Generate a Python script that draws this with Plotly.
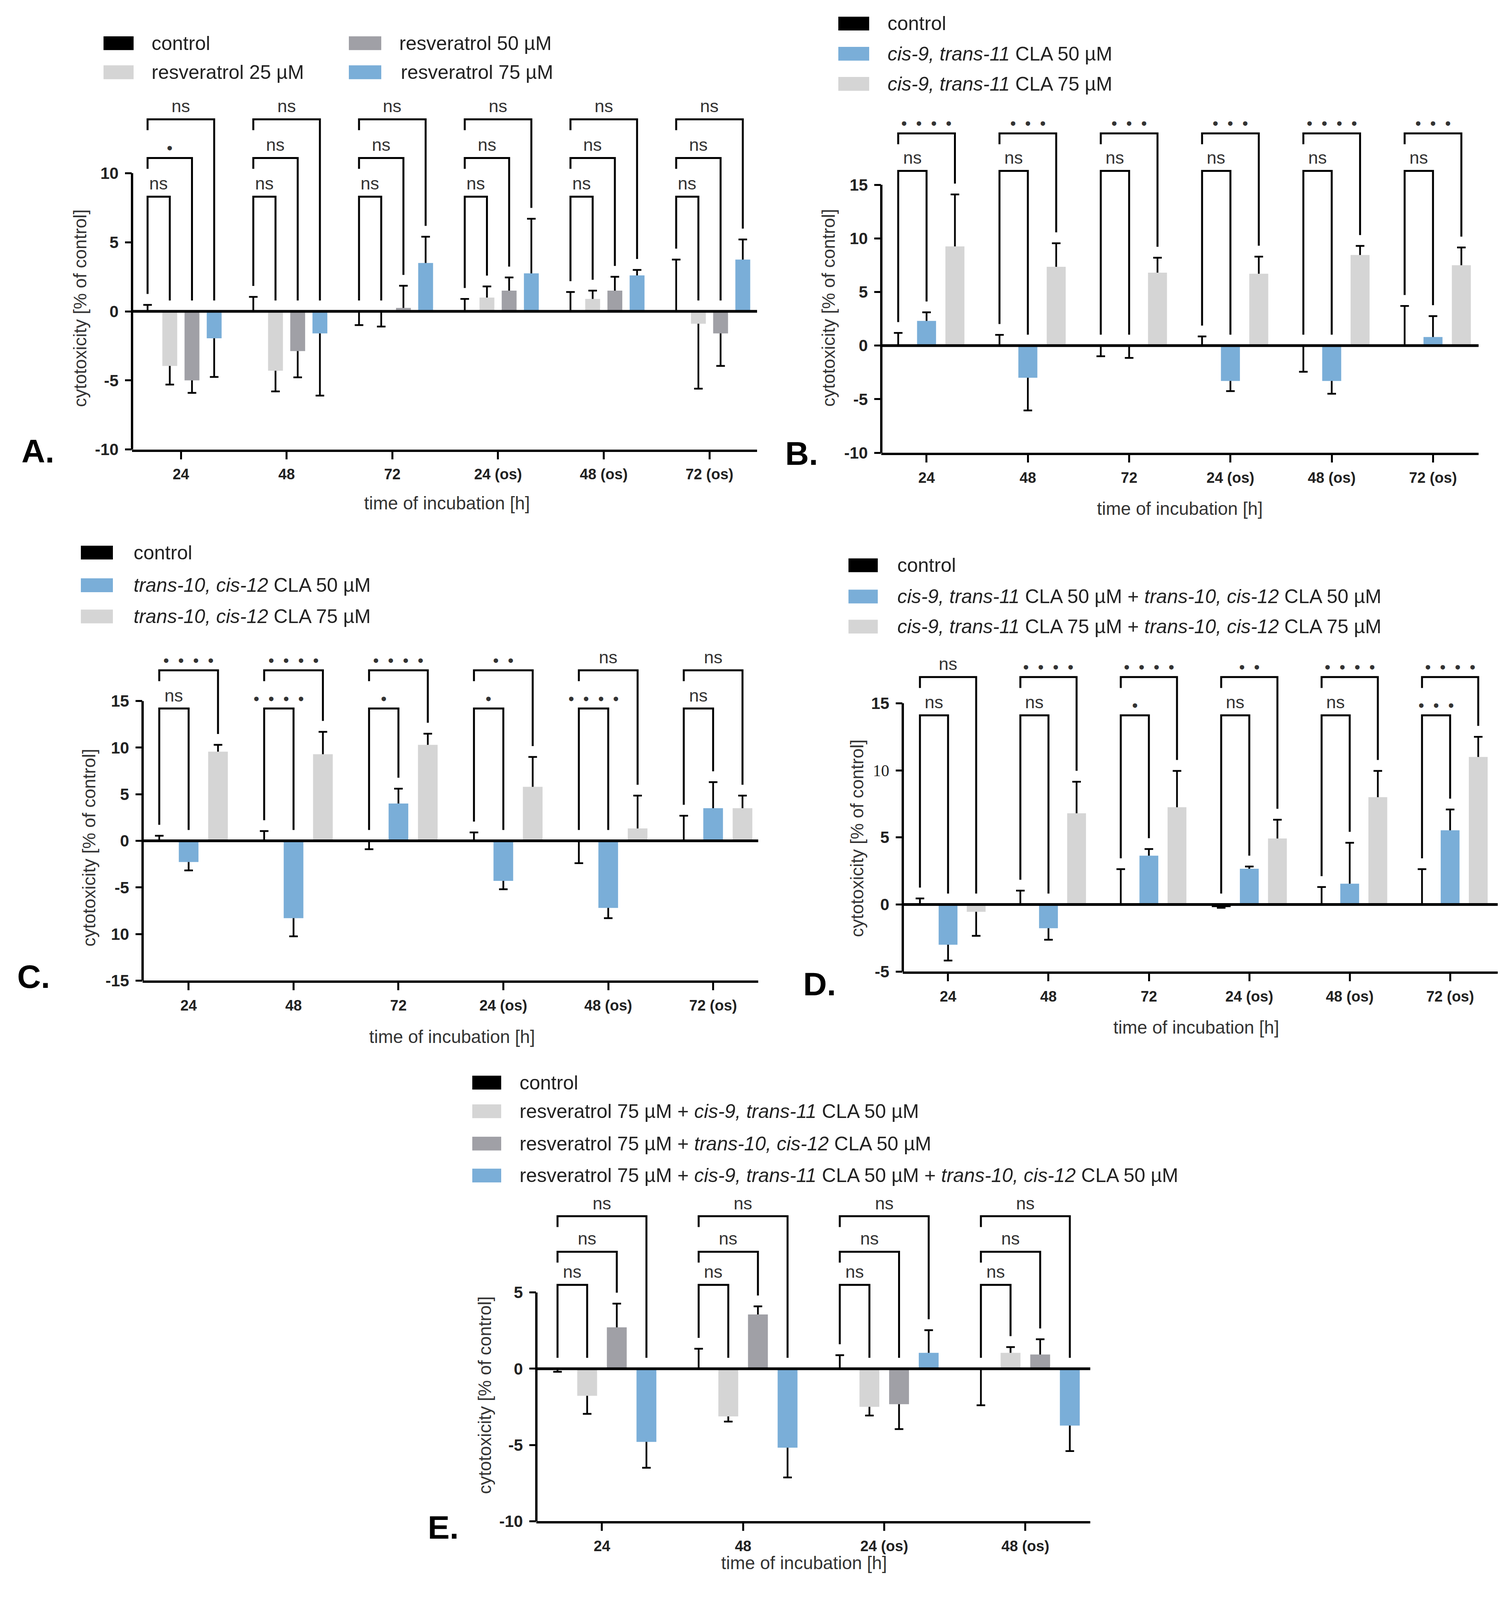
import plotly.graph_objects as go

# reference page is 3868 x 4364; the visible viewport is shorter, so the
# layout (measured in reference pixels) is mapped into a page that fits.
REF_W, REF_H = 3868, 4364
PAGE_H = 4080
BODY_MARGIN = 8
SY = PAGE_H / REF_H
W = REF_W - 2 * BODY_MARGIN
H = PAGE_H - 2 * BODY_MARGIN
FONT = "Liberation Sans, Arial, Helvetica, sans-serif"


def fx(x):
    return (x - BODY_MARGIN) / W


def fy(y):
    return 1 - (y * SY - BODY_MARGIN) / H


# ---------------- categories ----------------
CATS6 = ["24", "48", "72", "24 (os)", "48 (os)", "72 (os)"]
CATS4 = ["24", "48", "24 (os)", "48 (os)"]

# ---------------- panel A ----------------
A_names = ["control", "resveratrol 25 µM", "resveratrol 50 µM", "resveratrol 75 µM"]
A_control = [0, 0, 0, 0, 0, 0]
A_control_sd = [0.47, 1.05, -1.0, 0.9, 1.4, 3.75]
A_res25 = [-3.95, -4.3, 0.0, 1.0, 0.9, -0.9]
A_res25_sd = [-1.35, -1.5, -1.1, 0.8, 0.6, -4.7]
A_res50 = [-5.0, -2.88, 0.25, 1.5, 1.5, -1.6]
A_res50_sd = [-0.9, -1.9, 1.6, 0.95, 1.0, -2.35]
A_res75 = [-1.95, -1.6, 3.5, 2.75, 2.6, 3.75]
A_res75_sd = [-2.8, -4.5, 1.9, 3.95, 0.4, 1.45]
A_sig = [["ns", "ns", "ns", "ns", "ns", "ns"],
         ["*", "ns", "ns", "ns", "ns", "ns"],
         ["ns", "ns", "ns", "ns", "ns", "ns"]]
A_levels = [8.3, 11.1, 13.9]
A_ticks = [-10, -5, 0, 5, 10]
A_ticktext = ["-10", "-5", "0", "5", "10"]

# ---------------- panel B ----------------
B_names = ["control", "<i>cis-9, trans-11</i> CLA 50 µM", "<i>cis-9, trans-11</i> CLA 75 µM"]
B_control = [0, 0, 0, 0, 0, 0]
B_control_sd = [1.18, 1.0, -1.0, 0.85, -2.45, 3.7]
B_c9_50 = [2.3, -3.0, 0.0, -3.3, -3.3, 0.8]
B_c9_50_sd = [0.8, -3.05, -1.15, -0.95, -1.2, 1.95]
B_c9_75 = [9.25, 7.35, 6.8, 6.7, 8.45, 7.5]
B_c9_75_sd = [4.85, 2.2, 1.4, 1.6, 0.85, 1.65]
B_sig = [["ns", "ns", "ns", "ns", "ns", "ns"],
         ["****", "***", "***", "***", "****", "***"]]
B_levels = [16.3, 19.8]
B_ticks = [-10, -5, 0, 5, 10, 15]
B_ticktext = ["-10", "-5", "0", "5", "10", "15"]

# ---------------- panel C ----------------
C_names = ["control", "<i>trans-10, cis-12</i> CLA 50 µM", "<i>trans-10, cis-12</i> CLA 75 µM"]
C_control = [0, 0, 0, 0, 0, 0]
C_control_sd = [0.55, 1.05, -0.9, 0.9, -2.4, 2.7]
C_t10_50 = [-2.27, -8.3, 4.0, -4.3, -7.2, 3.5]
C_t10_50_sd = [-0.9, -1.95, 1.6, -0.9, -1.1, 2.8]
C_t10_75 = [9.57, 9.3, 10.3, 5.8, 1.33, 3.5]
C_t10_75_sd = [0.73, 2.4, 1.2, 3.2, 3.52, 1.35]
C_sig = [["ns", "****", "*", "*", "****", "ns"],
         ["****", "****", "****", "**", "ns", "ns"]]
C_levels = [14.2, 18.3]
C_ticks = [-15, -10, -5, 0, 5, 10, 15]
C_ticktext = ["-15", "10", "-5", "0", "5", "10", "15"]

# ---------------- panel D ----------------
D_names = ["control",
           "<i>cis-9, trans-11</i> CLA 50 µM + <i>trans-10, cis-12</i> CLA 50 µM",
           "<i>cis-9, trans-11</i> CLA 75 µM + <i>trans-10, cis-12</i> CLA 75 µM"]
D_control = [0, 0, 0, -0.2, 0, 0]
D_control_sd = [0.45, 1.03, 2.63, -0.05, 1.3, 2.63]
D_mix50 = [-3.0, -1.77, 3.64, 2.66, 1.55, 5.53]
D_mix50_sd = [-1.18, -0.86, 0.49, 0.17, 3.05, 1.55]
D_mix75 = [-0.55, 6.8, 7.25, 4.92, 8.0, 11.0]
D_mix75_sd = [-1.79, 2.35, 2.71, 1.4, 1.96, 1.5]
D_sig = [["ns", "ns", "*", "ns", "ns", "***"],
         ["ns", "****", "****", "**", "****", "****"]]
D_levels = [14.1, 16.95]
D_ticks = [-5, 0, 5, 10, 15]
D_ticktext = ["-5", "0", "5",
              '<span style="font-family:Liberation Serif;font-weight:normal">10</span>', "15"]

# ---------------- panel E ----------------
E_names = ["control",
           "resveratrol 75 µM + <i>cis-9, trans-11</i> CLA 50 µM",
           "resveratrol 75 µM + <i>trans-10, cis-12</i> CLA 50 µM",
           "resveratrol 75 µM + <i>cis-9, trans-11</i> CLA 50 µM + <i>trans-10, cis-12</i> CLA 50 µM"]
E_control = [0, 0, 0, 0]
E_control_sd = [-0.2, 1.31, 0.89, -2.4]
E_r_c9 = [-1.78, -3.13, -2.5, 1.04]
E_r_c9_sd = [-1.18, -0.34, -0.57, 0.38]
E_r_t10 = [2.71, 3.56, -2.33, 0.93]
E_r_t10_sd = [1.56, 0.53, -1.63, 1.0]
E_r_mix = [-4.8, -5.18, 1.04, -3.73]
E_r_mix_sd = [-1.7, -1.95, 1.49, -1.67]
E_sig = [["ns", "ns", "ns", "ns"],
         ["ns", "ns", "ns", "ns"],
         ["ns", "ns", "ns", "ns"]]
E_levels = [5.5, 7.67, 10.0]
E_ticks = [-10, -5, 0, 5]
E_ticktext = ["-10", "-5", "0", "5"]

# ---------------- colours ----------------
BLACK = "#000000"
LIGHT = "#d5d5d5"
DARK = "#a0a0a6"
BLUE = "#7aaed8"

X_TITLE = "time of incubation [h]"
Y_TITLE = "cytotoxicity [% of control]"

# ---------------- layout geometry (reference pixels) ----------------
panels = [
    dict(key="A", cats=CATS6, names=A_names, colors=[BLACK, LIGHT, DARK, BLUE],
         values=[A_control, A_res25, A_res50, A_res75],
         sds=[A_control_sd, A_res25_sd, A_res50_sd, A_res75_sd],
         sig=A_sig, levels=A_levels, ticks=A_ticks, ticktext=A_ticktext,
         ymin=-10, ytop=10, ymax=16, left=338, right=1938, ybot=1238, ytoppx=477,
         xrange=[-0.462, 5.45],
         legend=[(0, 265, 342, 119, 386), (2, 893, 976, 119, 1020),
                 (1, 265, 342, 199, 386), (3, 893, 976, 199, 1024)],
         label=(97, 1243), ytitle=(205, 849), xtitle=(1144, 1386)),
    dict(key="B", cats=CATS6, names=B_names, colors=[BLACK, BLUE, LIGHT],
         values=[B_control, B_c9_50, B_c9_75],
         sds=[B_control_sd, B_c9_50_sd, B_c9_75_sd],
         sig=B_sig, levels=B_levels, ticks=B_ticks, ticktext=B_ticktext,
         ymin=-10, ytop=15, ymax=22, left=2256, right=3785, ybot=1247, ytoppx=509,
         xrange=[-0.447, 5.45],
         legend=[(0, 2146, 2225, 65, 2270), (1, 2146, 2225, 148, 2270),
                 (2, 2146, 2225, 231, 2270)],
         label=(2052, 1249), ytitle=(2121, 848), xtitle=(3020, 1401)),
    dict(key="C", cats=CATS6, names=C_names, colors=[BLACK, BLUE, LIGHT],
         values=[C_control, C_t10_50, C_t10_75],
         sds=[C_control_sd, C_t10_50_sd, C_t10_75_sd],
         sig=C_sig, levels=C_levels, ticks=C_ticks, ticktext=C_ticktext,
         ymin=-15, ytop=15, ymax=21, left=365, right=1941, ybot=2701, ytoppx=1931,
         xrange=[-0.439, 5.43],
         legend=[(0, 207, 289, 1522, 340), (1, 207, 289, 1612, 340),
                 (2, 207, 289, 1698, 340)],
         label=(86, 2690), ytitle=(228, 2335), xtitle=(1157, 2856)),
    dict(key="D", cats=CATS6, names=D_names, colors=[BLACK, BLUE, LIGHT],
         values=[D_control, D_mix50, D_mix75],
         sds=[D_control_sd, D_mix50_sd, D_mix75_sd],
         sig=D_sig, levels=D_levels, ticks=D_ticks, ticktext=D_ticktext,
         ymin=-5, ytop=15, ymax=19, left=2311, right=3834, ybot=2676, ytoppx=1937,
         xrange=[-0.451, 5.474],
         legend=[(0, 2172, 2247, 1557, 2295), (1, 2172, 2247, 1643, 2295),
                 (2, 2172, 2247, 1726, 2295)],
         label=(2098, 2710), ytitle=(2194, 2309), xtitle=(3062, 2830)),
    dict(key="E", cats=CATS4, names=E_names, colors=[BLACK, LIGHT, DARK, BLUE],
         values=[E_control, E_r_c9, E_r_t10, E_r_mix],
         sds=[E_control_sd, E_r_c9_sd, E_r_t10_sd, E_r_mix_sd],
         sig=E_sig, levels=E_levels, ticks=E_ticks, ticktext=E_ticktext,
         ymin=-10, ytop=5, ymax=11.6, left=1373, right=2791, ybot=4190, ytoppx=3560,
         xrange=[-0.465, 3.46],
         legend=[(0, 1209, 1283, 2982, 1328), (1, 1209, 1283, 3061, 1328),
                 (2, 1209, 1283, 3150, 1328), (3, 1209, 1283, 3238, 1328)],
         label=(1134, 4207), ytitle=(1241, 3843), xtitle=(2058, 4305)),
]

BARGAP = 0.16
BARGROUPGAP = 0.33
G = 1 - BARGAP


def sig_text(s):
    return s if s == "ns" else "\u2007".join("•" for _ in s)


fig = go.Figure()
layout = dict(width=W, height=H, paper_bgcolor="white", plot_bgcolor="white",
              barmode="group", bargap=BARGAP, bargroupgap=BARGROUPGAP,
              showlegend=False, margin=dict(l=0, r=0, t=0, b=0),
              font=dict(family=FONT, color="#222"))
shapes = []
annotations = []

for n, P in enumerate(panels, start=1):
    xa = "x" if n == 1 else f"x{n}"
    ya = "y" if n == 1 else f"y{n}"
    xkey = "xaxis" if n == 1 else f"xaxis{n}"
    ykey = "yaxis" if n == 1 else f"yaxis{n}"
    ncat = len(P["cats"])
    idx = list(range(ncat))
    nser = len(P["values"])
    ppu_ref = (P["ybot"] - P["ytoppx"]) / (P["ytop"] - P["ymin"])
    top_ref = P["ybot"] - (P["ymax"] - P["ymin"]) * ppu_ref
    ppu = ppu_ref * SY

    layout[xkey] = dict(domain=[fx(P["left"]), fx(P["right"])], range=P["xrange"],
                        anchor=ya, tickmode="array", tickvals=idx, ticktext=P["cats"],
                        showline=True, linecolor="black", linewidth=6,
                        ticks="outside", ticklen=19, tickwidth=5, tickcolor="black",
                        tickfont=dict(family=FONT, size=38, color="#222", weight="bold"),
                        ticklabelstandoff=6, showgrid=False, zeroline=False)
    layout[ykey] = dict(domain=[fy(P["ybot"]), fy(top_ref)],
                        range=[P["ymin"], P["ymax"]], anchor=xa,
                        tickmode="array", tickvals=P["ticks"], ticktext=P["ticktext"],
                        showline=False, ticks="outside", ticklen=17, tickwidth=5,
                        tickcolor="black",
                        tickfont=dict(family=FONT, size=42, color="#222", weight="bold"),
                        ticklabelstandoff=8, showgrid=False, zeroline=False)

    # error-bar carriers (drawn first, hidden under the bars)
    for k in range(nser):
        v = P["values"][k]
        e = P["sds"][k]
        up = [max(a, a + b, 0) - a for a, b in zip(v, e)]
        dn = [a - min(a, a + b, 0) for a, b in zip(v, e)]
        fig.add_trace(go.Bar(x=idx, y=v, xaxis=xa, yaxis=ya, offsetgroup=f"{P['key']}{k}",
                             marker=dict(color="rgba(0,0,0,0)", line=dict(width=0)),
                             error_y=dict(type="data", symmetric=False, array=up,
                                          arrayminus=dn, color="black", thickness=4.5,
                                          width=11),
                             showlegend=False, hoverinfo="skip"))
    # visible bars
    for k in range(nser):
        fig.add_trace(go.Bar(x=idx, y=P["values"][k], xaxis=xa, yaxis=ya,
                             offsetgroup=f"{P['key']}{k}", name=P["names"][k],
                             marker=dict(color=P["colors"][k], line=dict(width=0))))

    # y-axis line (only up to the top tick) and zero line
    shapes.append(dict(type="line", xref=f"{xa} domain", yref=ya, x0=0, x1=0,
                       y0=P["ymin"], y1=P["ytop"], line=dict(color="black", width=6),
                       layer="above"))
    shapes.append(dict(type="line", xref=f"{xa} domain", yref=ya, x0=0, x1=1,
                       y0=0, y1=0, line=dict(color="black", width=7), layer="above"))

    # significance brackets
    slot = G / nser

    def off(k):
        return -G / 2 + (k + 0.5) * slot

    gap = 28 / ppu
    for g in range(ncat):
        cv, ce = P["values"][0][g], P["sds"][0][g]
        ctop = max(0, cv, cv + ce)
        for j, lev in enumerate(P["levels"]):
            k = j + 1
            v, e = P["values"][k][g], P["sds"][k][g]
            rtop = max(0, v, v + e)
            x0 = g + off(0)
            x1 = g + off(k)
            yl = ctop + gap if j == 0 else lev - gap
            yr = rtop + gap
            path = f"M {x0},{yl} L {x0},{lev} L {x1},{lev} L {x1},{yr}"
            shapes.append(dict(type="path", xref=xa, yref=ya, path=path,
                               line=dict(color="black", width=5), layer="above"))
            s = P["sig"][j][g]
            is_ns = s == "ns"
            annotations.append(dict(x=(x0 + x1) / 2, y=lev, xref=xa, yref=ya,
                                    text=sig_text(s), showarrow=False,
                                    xanchor="center", yanchor="bottom",
                                    yshift=6 if is_ns else 0,
                                    font=dict(family=FONT, size=45 if is_ns else 42,
                                              color="#333")))

    # legend
    for (k, sx0, sx1, yc, tx) in P["legend"]:
        shapes.append(dict(type="rect", xref="paper", yref="paper",
                           x0=fx(sx0), x1=fx(sx1), y0=fy(yc + 19), y1=fy(yc - 19),
                           fillcolor=P["colors"][k], line=dict(width=0)))
        annotations.append(dict(x=fx(tx), y=fy(yc), xref="paper", yref="paper",
                                text=P["names"][k], showarrow=False, xanchor="left",
                                yanchor="middle",
                                font=dict(family=FONT, size=50, color="#222")))

    # panel letter and axis titles
    annotations.append(dict(x=fx(P["label"][0]), y=fy(P["label"][1]), xref="paper",
                            yref="paper", text=f"<b>{P['key']}.</b>", showarrow=False,
                            xanchor="center", yanchor="middle",
                            font=dict(family=FONT, size=84, color="black")))
    annotations.append(dict(x=fx(P["ytitle"][0]), y=fy(P["ytitle"][1]), xref="paper",
                            yref="paper", text=Y_TITLE, showarrow=False, textangle=-90,
                            xanchor="center", yanchor="middle",
                            font=dict(family=FONT, size=46, color="#333")))
    annotations.append(dict(x=fx(P["xtitle"][0]), y=fy(P["xtitle"][1]), xref="paper",
                            yref="paper", text=X_TITLE, showarrow=False,
                            xanchor="center", yanchor="middle",
                            font=dict(family=FONT, size=46, color="#333")))

layout["shapes"] = shapes
layout["annotations"] = annotations
fig.update_layout(**layout)
fig.write_html("out.html")
